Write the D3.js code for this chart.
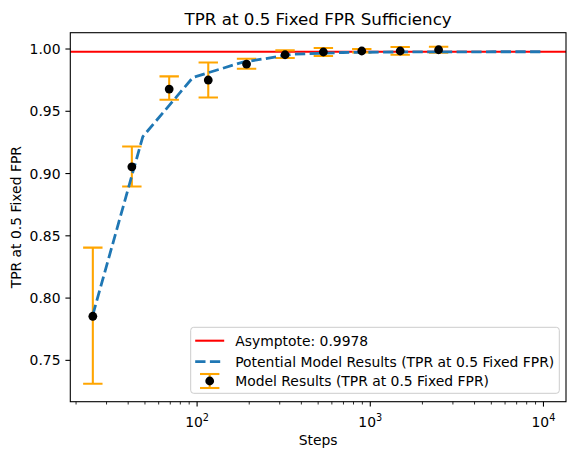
<!DOCTYPE html>
<html>
<head>
<meta charset="utf-8">
<script src="https://cdn.jsdelivr.net/npm/d3@7"></script>
<style>
  body { margin: 0; background: white; }
  svg { display: block; font-family: "DejaVu Sans", sans-serif; }
</style>
</head>
<body>
<svg></svg>
<script>
// measured model results
var steps = [25, 42, 69, 116, 193, 322, 536, 893, 1488, 2480];
var tpr = [0.7854, 0.9054, 0.9678, 0.9751, 0.9879, 0.9954, 0.9976, 0.9984, 0.9984, 0.9994];
var errLow = [0.7312, 0.8896, 0.9592, 0.9611, 0.9842, 0.9928, 0.9944, 0.9973, 0.9954, 0.9970];
var errHigh = [0.8405, 0.9217, 0.9780, 0.9892, 0.9922, 0.9989, 1.0008, 1.0000, 1.0016, 1.0018];

// potential (fitted) curve
var curveSteps = [25, 48.6, 94.6, 184, 358, 697, 1356, 2639, 5135, 10000];
var curveTpr = [0.7866, 0.9297, 0.9772, 0.9895, 0.9958, 0.9972, 0.9976, 0.9977, 0.9978, 0.9978];

var asymptote = 0.9978;
var yTicks = [0.75, 0.80, 0.85, 0.90, 0.95, 1.00];
var xTicks = [100, 1000, 10000];
var yDomain = [0.7168, 1.0131];

var unit = {width: 576, height: 459};
var m = {top: 32.7, right: 10, bottom: 57.3, left: 70.3};
var w = unit.width - m.left - m.right, h = unit.height - m.top - m.bottom;

var svg = d3.select('svg').attr('width', unit.width).attr('height', unit.height);

// log x with 5% margin in log space, like matplotlib
var lx = d3.extent(curveSteps.concat(steps)).map(Math.log10);
var pad = (lx[1] - lx[0]) * 0.05;
var x = d3.scaleLog().domain([Math.pow(10, lx[0] - pad), Math.pow(10, lx[1] + pad)]).range([0, w]);
var y = d3.scaleLinear().domain(yDomain).range([h, 0]);

var g = svg.append('g').attr('transform', 'translate(' + m.left + ',' + m.top + ')');

g.append('defs').append('clipPath').attr('id', 'clip')
  .append('rect').attr('width', w).attr('height', h);

var plot = g.append('g').attr('clip-path', 'url(#clip)');

// asymptote
plot.append('line')
  .attr('x1', 0).attr('x2', w)
  .attr('y1', y(asymptote)).attr('y2', y(asymptote))
  .attr('stroke', 'red').attr('stroke-width', 2.08);

// error bars
var data = steps.map(function(s, i){
  return {s: s, v: tpr[i], lo: errLow[i], hi: errHigh[i]};
});
var eb = plot.selectAll('.eb').data(data).enter().append('g').classed('eb', true)
  .attr('stroke', 'orange').attr('stroke-width', 2.08);
eb.append('line')
  .attr('x1', (d) => x(d.s)).attr('x2', (d) => x(d.s))
  .attr('y1', (d) => y(d.lo)).attr('y2', (d) => y(d.hi));
eb.append('line')
  .attr('x1', (d) => x(d.s) - 9.7).attr('x2', (d) => x(d.s) + 9.7)
  .attr('y1', (d) => y(d.lo)).attr('y2', (d) => y(d.lo));
eb.append('line')
  .attr('x1', (d) => x(d.s) - 9.7).attr('x2', (d) => x(d.s) + 9.7)
  .attr('y1', (d) => y(d.hi)).attr('y2', (d) => y(d.hi));

// potential curve
var line = d3.line().x((d) => x(d[0])).y((d) => y(d[1]));
plot.append('path')
  .datum(curveSteps.map((s, i) => [s, curveTpr[i]]))
  .attr('d', line)
  .attr('fill', 'none')
  .attr('stroke', '#1f77b4')
  .attr('stroke-width', 2.78)
  .attr('stroke-dasharray', '10.3,4.4');

// markers
plot.selectAll('.dot').data(data).enter().append('circle')
  .attr('cx', (d) => x(d.s)).attr('cy', (d) => y(d.v))
  .attr('r', 4.4).attr('fill', 'black');

// spines
g.append('rect').attr('width', w).attr('height', h)
  .attr('fill', 'none').attr('stroke', 'black').attr('stroke-width', 1.1);

// y axis
var gy = g.append('g');
yTicks.forEach(function(t){
  gy.append('line').attr('x1', -4.9).attr('x2', 0).attr('y1', y(t)).attr('y2', y(t))
    .attr('stroke', 'black').attr('stroke-width', 1.1);
  gy.append('text').attr('x', -9.8).attr('y', y(t)).attr('dy', '0.36em')
    .attr('text-anchor', 'end').attr('font-size', 13.9).text(d3.format('.2f')(t));
});

// x axis: minor ticks
var gx = g.append('g').attr('transform', 'translate(0,' + h + ')');
var dom = x.domain();
for (var e = 1; e <= 4; e++){
  for (var k = 2; k <= 9; k++){
    var v = k * Math.pow(10, e);
    if (v < dom[0] || v > dom[1]) continue;
    gx.append('line').attr('x1', x(v)).attr('x2', x(v)).attr('y1', 0).attr('y2', 2.8)
      .attr('stroke', 'black').attr('stroke-width', 0.83);
  }
}
xTicks.forEach(function(t){
  gx.append('line').attr('x1', x(t)).attr('x2', x(t)).attr('y1', 0).attr('y2', 4.9)
    .attr('stroke', 'black').attr('stroke-width', 1.1);
  var txt = gx.append('text').attr('x', x(t)).attr('y', 25.5)
    .attr('text-anchor', 'middle').attr('font-size', 13.9);
  txt.append('tspan').text('10');
  txt.append('tspan').attr('font-size', 9.7).attr('dy', -5.8).text(Math.round(Math.log10(t)));
});

// labels
g.append('text').attr('x', w / 2).attr('y', h + 43.5).attr('text-anchor', 'middle')
  .attr('font-size', 13.9).text('Steps');
g.append('text').attr('transform', 'translate(' + (-49.8) + ',' + (h / 2) + ') rotate(-90)')
  .attr('text-anchor', 'middle').attr('font-size', 13.9).text('TPR at 0.5 Fixed FPR');
g.append('text').attr('x', w / 2).attr('y', -7.5).attr('text-anchor', 'middle')
  .attr('font-size', 16.7).text('TPR at 0.5 Fixed FPR Sufficiency');

// legend
var lg = svg.append('g').attr('transform', 'translate(190.7,327.3)');
lg.append('rect').attr('width', 368.6).attr('height', 66).attr('rx', 3)
  .attr('fill', 'white').attr('fill-opacity', 0.8)
  .attr('stroke', '#cccccc').attr('stroke-width', 1);
var rows = [13.4, 34.4, 53.7];
var labels = ['Asymptote: ' + asymptote, 'Potential Model Results (TPR at 0.5 Fixed FPR)', 'Model Results (TPR at 0.5 Fixed FPR)'];
lg.append('line').attr('x1', 4.5).attr('x2', 33.5).attr('y1', rows[0]).attr('y2', rows[0])
  .attr('stroke', 'red').attr('stroke-width', 2.08);
lg.append('line').attr('x1', 4.5).attr('x2', 33.5).attr('y1', rows[1]).attr('y2', rows[1])
  .attr('stroke', '#1f77b4').attr('stroke-width', 2.78).attr('stroke-dasharray', '10.3,4.4');
var eh = lg.append('g').attr('stroke', 'orange').attr('stroke-width', 2.08);
eh.append('line').attr('x1', 19).attr('x2', 19).attr('y1', rows[2] - 7).attr('y2', rows[2] + 7);
eh.append('line').attr('x1', 9.3).attr('x2', 28.7).attr('y1', rows[2] - 7).attr('y2', rows[2] - 7);
eh.append('line').attr('x1', 9.3).attr('x2', 28.7).attr('y1', rows[2] + 7).attr('y2', rows[2] + 7);
lg.append('circle').attr('cx', 19).attr('cy', rows[2]).attr('r', 4.4).attr('fill', 'black');
labels.forEach(function(t, i){
  lg.append('text').attr('x', 44.5).attr('y', rows[i]).attr('dy', '0.36em')
    .attr('font-size', 13.9).text(t);
});
</script>
</body>
</html>
